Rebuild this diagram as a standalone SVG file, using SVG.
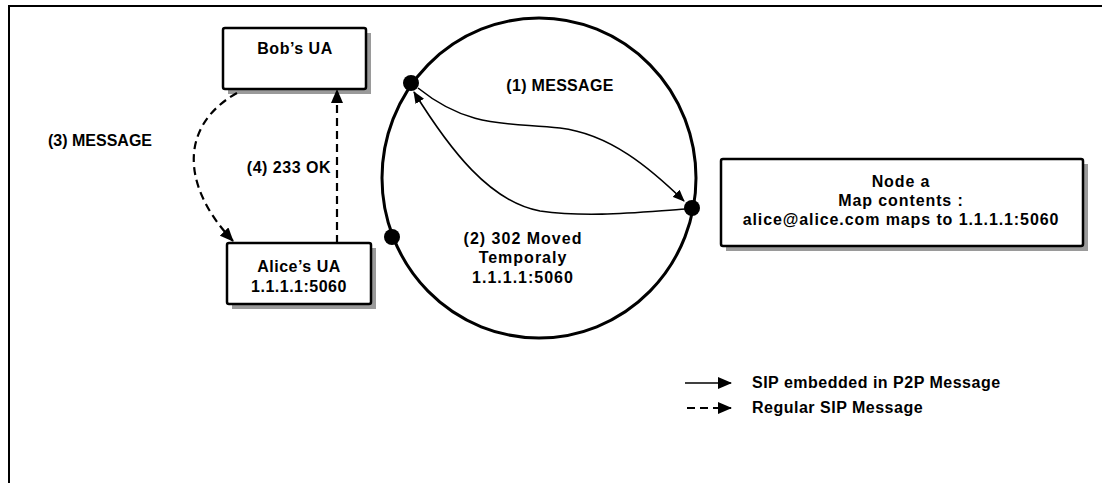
<svg xmlns="http://www.w3.org/2000/svg" width="1102" height="483" viewBox="0 0 1102 483">
<defs>
<style>
text{font-family:"Liberation Sans",Arial,sans-serif;font-weight:bold;font-size:16px;letter-spacing:0.5px;fill:#000}
.mid{text-anchor:middle}
.box{fill:#fff;stroke:#000;stroke-width:2.5}
.shadow{fill:#9a9a9a}
.dash{fill:none;stroke:#000;stroke-width:2.2;stroke-dasharray:8 5}
.solid{fill:none;stroke:#000;stroke-width:1.6}
.dot{fill:#000}
</style>
<marker id="ah" viewBox="0 0 12 10" refX="11" refY="5" markerWidth="12" markerHeight="10" markerUnits="userSpaceOnUse" orient="auto">
<path d="M0,0 L12,5 L0,10 Z" fill="#000"/>
</marker>
<marker id="ahL" viewBox="0 0 14 12" refX="13" refY="6" markerWidth="14" markerHeight="12" markerUnits="userSpaceOnUse" orient="auto">
<path d="M0,0 L14,6 L0,12 Z" fill="#000"/>
</marker>
</defs>
<rect width="1102" height="483" fill="#fff"/>
<g id="frame">
<path d="M9,483 L9,6 L1102,6" fill="none" stroke="#000" stroke-width="2"/>
</g>
<g id="ring">
<ellipse cx="539" cy="178" rx="157" ry="160" fill="none" stroke="#000" stroke-width="3"/>
<circle class="dot" cx="411" cy="83" r="8"/>
<circle class="dot" cx="692" cy="208" r="8"/>
<circle class="dot" cx="392" cy="237" r="8"/>
</g>
<g id="bob">
<rect class="shadow" x="228" y="33" width="143" height="61"/>
<rect class="box" x="223" y="28" width="143" height="61" rx="2"/>
<text class="mid" x="295" y="54">Bob’s UA</text>
</g>
<g id="alice">
<rect class="shadow" x="232" y="248" width="144" height="61"/>
<rect class="box" x="227" y="243" width="144" height="61" rx="2"/>
<text class="mid" x="299" y="272">Alice’s UA</text>
<text class="mid" x="299" y="292">1.1.1.1:5060</text>
</g>
<g id="nodea">
<rect class="shadow" x="726" y="164" width="362" height="87"/>
<rect class="box" x="721" y="159" width="362" height="87" rx="2"/>
<text class="mid" x="901" y="187" style="letter-spacing:0.9px">Node a</text>
<text class="mid" x="901" y="206" style="letter-spacing:0.9px">Map contents :</text>
<text class="mid" x="901" y="225" style="letter-spacing:0.9px">alice@alice.com maps to 1.1.1.1:5060</text>
</g>
<g id="connectors">
<path class="solid" marker-end="url(#ah)" d="M418,88 C470,130 510,122 560,128 C610,134 650,168 684,201"/>
<path class="solid" marker-end="url(#ah)" d="M686,209 C640,212 590,218 540,211 C490,202 450,150 414,92"/>
<path class="dash" marker-end="url(#ahL)" d="M237,93 C180,125 180,185 233,241"/>
<path class="dash" marker-end="url(#ahL)" d="M337,243 L337,90"/>
</g>
<g id="labels">
<text x="48" y="146" style="letter-spacing:0px">(3) MESSAGE</text>
<text x="331" y="173" text-anchor="end">(4) 233 OK</text>
<text class="mid" x="560" y="91" style="letter-spacing:0.3px">(1) MESSAGE</text>
<text class="mid" x="523" y="244" style="letter-spacing:1px">(2) 302 Moved</text>
<text class="mid" x="523" y="263" style="letter-spacing:1px">Temporaly</text>
<text class="mid" x="523" y="283" style="letter-spacing:1px">1.1.1.1:5060</text>
</g>
<g id="legend">
<path class="solid" stroke-width="2" marker-end="url(#ahL)" d="M685,383 L731,383"/>
<path class="dash" stroke-width="2" stroke-dasharray="6 5" marker-end="url(#ahL)" d="M687,408 L731,408"/>
<text x="752" y="388">SIP embedded in P2P Message</text>
<text x="752" y="413">Regular SIP Message</text>
</g>
</svg>
